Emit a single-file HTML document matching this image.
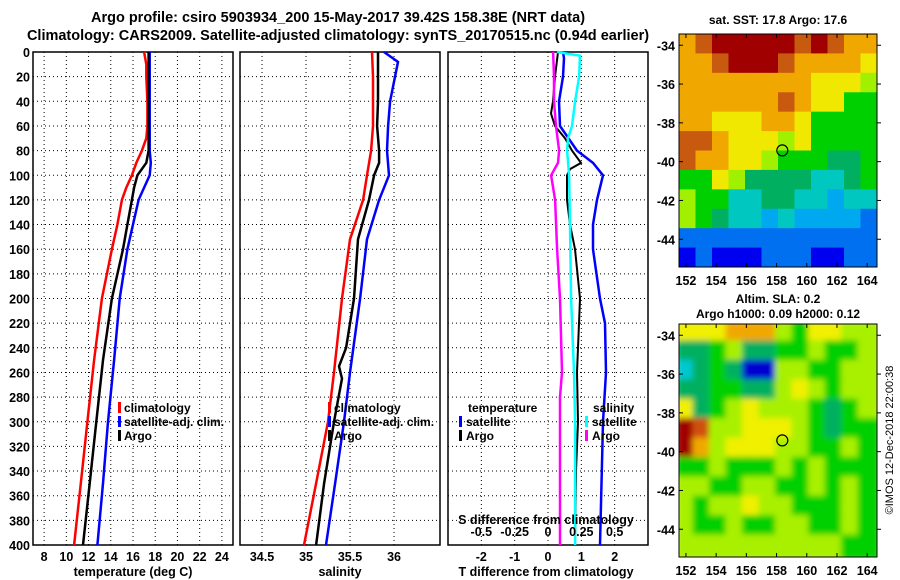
<!DOCTYPE html>
<html><head><meta charset="utf-8"><style>
body{margin:0;background:#fff;}
svg{display:block;font-family:"Liberation Sans",sans-serif;font-weight:bold;}
</style></head><body>
<svg id="fig" width="900" height="580" viewBox="0 0 900 580">
<text x="338" y="22" font-size="14.5" text-anchor="middle">Argo profile: csiro 5903934_200 15-May-2017 39.42S 158.38E (NRT data)</text>
<text x="338" y="40" font-size="14.5" text-anchor="middle">Climatology: CARS2009. Satellite-adjusted climatology: synTS_20170515.nc (0.94d earlier)</text>
<text x="778" y="24" font-size="12" text-anchor="middle">sat. SST: 17.8 Argo: 17.6</text>
<text x="778" y="303" font-size="12" text-anchor="middle">Altim. SLA: 0.2</text>
<text x="778" y="318" font-size="12" text-anchor="middle">Argo h1000: 0.09 h2000: 0.12</text>
<text transform="translate(893,440) rotate(-90)" font-size="11" font-weight="normal" text-anchor="middle">©IMOS 12-Dec-2018 22:00:38</text>
</svg>
<script>
// ---- data ----
const depthTicks=[0,20,40,60,80,100,120,140,160,180,200,220,240,260,280,300,320,340,360,380,400];
const tempTicks=[8,10,12,14,16,18,20,22,24];
const salTicks=[34.5,35,35.5,36];
const tdiffTicks=[-2,-1,0,1,2];
const sdiffTicks=[-0.5,-0.25,0,0.25,0.5];
const sdiffLabels=["-0.5","-0.25","0","0.25","0.5"];

const tClimDepth=[0,10,20,40,60,70,80,90,100,110,120,140,160,200,250,300,350,400];
const tClim=[17.0,17.2,17.2,17.3,17.3,17.2,16.8,16.3,15.9,15.4,15.0,14.6,14.1,13.2,12.5,11.9,11.3,10.7];
const tArgo=[17.4,17.4,17.4,17.4,17.4,17.4,17.4,17.2,16.4,16.1,15.9,15.5,15.1,14.1,13.3,12.7,12.1,11.5];
const tSat=[17.5,17.5,17.5,17.5,17.5,17.5,17.5,17.6,17.5,17.0,16.5,16.0,15.5,14.8,14.3,13.75,13.3,12.8];

const sClimDepth=[0,20,40,60,80,100,120,152,200,260,300,350,400];
const sClim=[35.75,35.761,35.761,35.761,35.739,35.693,35.648,35.5,35.409,35.318,35.25,35.114,34.977];
const sArgoDepth=[0,40,60,80,90,100,120,152,200,240,255,265,300,350,400];
const sArgo=[35.818,35.818,35.807,35.83,35.83,35.773,35.716,35.591,35.545,35.455,35.375,35.409,35.318,35.205,35.114];
const sSatDepth=[0,8,20,40,60,80,100,120,152,200,260,300,350,400];
const sSat=[35.886,36.045,36.011,35.955,35.932,35.92,35.943,35.83,35.693,35.614,35.5,35.432,35.33,35.227];

const dTSatDepth=[0,5,20,40,60,80,90,100,120,140,160,200,220,260,300,400];
const dTSat=[0.45,0.48,0.45,0.33,0.36,0.87,1.35,1.65,1.47,1.35,1.35,1.56,1.71,1.74,1.65,1.56];
const dTArgoDepth=[0,20,40,50,60,70,80,90,95,100,120,140,160,200,240,260,300,340,400];
const dTArgo=[0.3,0.21,0.15,0.09,0.21,0.51,0.72,0.99,0.66,0.57,0.57,0.66,0.81,0.96,0.9,0.87,0.9,0.84,0.81];
const dSSatDepth=[0,3,20,40,60,70,80,100,140,200,260,300,400];
const dSSat=[0.068,0.24,0.233,0.203,0.18,0.15,0.143,0.158,0.165,0.173,0.195,0.203,0.203];
const dSArgoDepth=[0,20,40,60,80,90,100,120,160,200,260,280,300,400];
const dSArgo=[0.038,0.045,0.045,0.06,0.083,0.075,0.023,0.053,0.068,0.09,0.105,0.09,0.09,0.09];

const lonTicks=[152,154,156,158,160,162,164];
const latTicks=[-34,-36,-38,-40,-42,-44];
const argoLon=158.38, argoLat=-39.42;
const sstGrid=[
[19,20,21,21,21,21,21,20,21,20,19,19],
[19,19,20,21,21,21,20,19,19,19,19,18.5],
[19,19,19,19.5,19,19,19.5,19,18,18,18,17.5],
[19,19,19,19,19,19,20,19,18,18,17,17],
[19,19,18,18,18.5,19,19,18.5,17,17,17,17],
[20,20,19,18,18,18,17.5,18,17,17,17,17],
[20,19,19,18.5,18,17.5,17,17,17,16.5,16.5,17],
[17,17,18,17.5,16.5,16.5,16.5,16.5,16,16,16.5,17],
[17.5,17,17,16,16,16.5,16.5,16,16,15.5,16,16],
[17.5,17,16.5,16,16,15.5,16,15.5,15.5,15.5,15.5,15],
[15,15,15,15,15,15,15,15,15,15,15,15],
[14.5,15,14.5,14.5,14.5,15,15,15,14.5,14.5,15,15]];
const slaGrid=[
[0.2,0.2,0.2,0.3,0.35,0.3,0.1,0,0.2,0.2,0.1,0.1],
[-0.1,-0.15,0,0.15,-0.1,-0.1,0,0,0.1,0.05,0,0.1],
[-0.2,-0.15,0,-0.1,-0.5,-0.5,0.1,0.1,0,0.05,0.1,0.1],
[-0.1,-0.1,0,0.05,-0.1,-0.1,0.1,0.25,0.1,0,0.1,0.1],
[0.2,-0.05,0,0.1,0.25,0.1,0.15,0.1,0,-0.1,0,0.1],
[0.5,0.4,0.1,0.1,0.2,0.2,0.2,0.1,0.05,-0.1,0.05,0],
[0.5,0.3,0.15,0.2,0.2,0.2,0.1,0.1,0,0.05,0.1,0],
[0,0,0.1,0,0,0,0.1,0,0.1,0,0.05,0],
[0.1,0.1,0.05,0,0.1,0.1,0,0,0.1,0,0.1,0],
[0.15,0,0.1,0.15,0.2,0.1,0.1,0.05,0,0.05,0.1,0],
[0.1,0,0,0.1,0,0,0.1,0.1,0.05,0,0.1,0.05],
[0.1,0.1,0.15,0.1,0.1,0.1,0.15,0.1,0.15,0.1,0.05,0]];

// ---- drawing ----
const NS="http://www.w3.org/2000/svg";
const svg=document.getElementById('fig');
function mk(tag,attrs,parent){const e=document.createElementNS(NS,tag);for(const k in attrs)e.setAttribute(k,attrs[k]);(parent||svg).appendChild(e);return e;}
const Y0=52,Y1=545;
const yD=d=>Y0+(d/400)*(Y1-Y0);
function panel(x0,x1,xmin,xmax,name){
  const sx=v=>x0+(v-xmin)/(xmax-xmin)*(x1-x0);
  const g=mk('g',{});
  
  
  return {sx,g,x0,x1};
}
function frame(p,xt,labels,showY){
  xt.forEach((v,i)=>{const x=p.sx(v);
    const l=mk('line',{x1:x,x2:x,y1:Y0,y2:Y1,stroke:'#000','stroke-width':1,'stroke-dasharray':'1 3'},p.g);
    
    const t=mk('text',{x:x,y:561,'font-size':12.5,'text-anchor':'middle'},p.g);t.textContent=labels?labels[i]:String(v);
    });
  depthTicks.forEach(d=>{const y=yD(d);
    if(d>0&&d<400){const l=mk('line',{x1:p.x0,x2:p.x1,y1:y,y2:y,stroke:'#000','stroke-width':1,'stroke-dasharray':'1 3'},p.g);
    }
    if(showY){const t=mk('text',{x:p.x0-3,y:y+5,'font-size':12.5,'text-anchor':'end'},p.g);t.textContent=d;
    }});
  const r=mk('rect',{x:p.x0,y:Y0,width:p.x1-p.x0,height:Y1-Y0,fill:'none',stroke:'#000','stroke-width':1.5},p.g);
  
}
function series(p,sx,depths,vals,color,name,w){
  const pts=vals.map((v,i)=>sx(v).toFixed(1)+','+yD(depths[i]).toFixed(1)).join(' ');
  const l=mk('polyline',{points:pts,fill:'none',stroke:color,'stroke-width':w||2.5},p.g);
  
}
function text(g,x,y,s,name,size,anchor){const t=mk('text',{x:x,y:y,'font-size':size||12,'text-anchor':anchor||'start'},g);t.textContent=s;
  return t;}
function legendMark(g,x,y,color){const r=mk('rect',{x:x,y:y-10,width:3,height:11,fill:color},g);
  }

// panel 1 temperature
const p1=panel(33,233,7,25,'temperature-panel');
frame(p1,tempTicks,null,true);
series(p1,p1.sx,tClimDepth,tClim,'#f00','climatology-temperature-line');
series(p1,p1.sx,tClimDepth,tSat,'#00f','satellite-adj-temperature-line');
series(p1,p1.sx,tClimDepth,tArgo,'#000','argo-temperature-line');
text(p1.g,133,576,'temperature (deg C)','x-axis-title-temperature',12.5,'middle');
[['climatology','#f00'],['satellite-adj. clim.','#00f'],['Argo','#000']].forEach((e,i)=>{
  legendMark(p1.g,118,412+i*14,e[1]);text(p1.g,124,412+i*14,e[0],'legend-entry');});

// panel 2 salinity
const p2=panel(240,440,34.25,36.522,'salinity-panel');
frame(p2,salTicks,null,false);
series(p2,p2.sx,sClimDepth,sClim,'#f00','climatology-salinity-line');
series(p2,p2.sx,sSatDepth,sSat,'#00f','satellite-adj-salinity-line');
series(p2,p2.sx,sArgoDepth,sArgo,'#000','argo-salinity-line');
text(p2.g,340,576,'salinity','x-axis-title-salinity',12.5,'middle');
[['climatology','#f00'],['satellite-adj. clim.','#00f'],['Argo','#000']].forEach((e,i)=>{
  legendMark(p2.g,328,412+i*14,e[1]);text(p2.g,334,412+i*14,e[0],'legend-entry');});

// panel 3 differences
const p3=panel(448,648,-3,3,'difference-panel');
frame(p3,tdiffTicks,null,false);
const sxS=v=>p3.sx(v*4);
series(p3,p3.sx,dTSatDepth,dTSat,'#00f','satellite-temperature-diff-line');
series(p3,p3.sx,dTArgoDepth,dTArgo,'#000','argo-temperature-diff-line',2);
series(p3,sxS,dSSatDepth,dSSat,'#0ff','satellite-salinity-diff-line');
series(p3,sxS,dSArgoDepth,dSArgo,'#f0f','argo-salinity-diff-line');
sdiffTicks.forEach((v,i)=>{const t=text(p3.g,sxS(v),536,sdiffLabels[i],'s-diff-tick-label',12.5,'middle');});
text(p3.g,546,524,'S difference from climatology','s-diff-axis-title',12.5,'middle');
text(p3.g,546,576,'T difference from climatology','x-axis-title-tdiff',12.5,'middle');
text(p3.g,468,412,'temperature','legend-title-temperature');
text(p3.g,593,412,'salinity','legend-title-salinity');
[['satellite','#00f'],['Argo','#000']].forEach((e,i)=>{legendMark(p3.g,459,426+i*14,e[1]);text(p3.g,466,426+i*14,e[0],'legend-entry');});
[['satellite','#0ff'],['Argo','#f0f']].forEach((e,i)=>{legendMark(p3.g,585,426+i*14,e[1]);text(p3.g,592,426+i*14,e[0],'legend-entry');});

// maps
function sstColor(v){const stops=[[14.5,'#0000f0'],[15,'#0070f0'],[15.5,'#00a8f0'],[16,'#00c8c0'],[16.5,'#00b060'],[17,'#00d000'],[17.5,'#a0f000'],[18,'#f0e800'],[19,'#f0a800'],[20,'#c85a10'],[21,'#a00000']];
  let best=stops[0];for(const s of stops)if(Math.abs(s[0]-v)<Math.abs(best[0]-v))best=s;return best[1];}
function slaColor(v){const stops=[[-0.5,'#0000d0'],[-0.4,'#0060f0'],[-0.2,'#00c8d0'],[-0.1,'#00b060'],[0,'#00d000'],[0.1,'#a8f000'],[0.2,'#f0f000'],[0.3,'#f0a800'],[0.4,'#d05010'],[0.5,'#a00000']];
  let best=stops[0];for(const s of stops)if(Math.abs(s[0]-v)<Math.abs(best[0]-v))best=s;return best[1];}
function map(top,bottom,grid,colorFn,name,blur){
  const L=679,R=877,lonMin=151.54,lonMax=164.65,latTop=-33.42,latBot=-45.43;
  const sx=lon=>L+(lon-lonMin)/(lonMax-lonMin)*(R-L);
  const sy=lat=>top+(latTop-lat)/(latTop-latBot)*(bottom-top);
  const g=mk('g',{});
  const cg=mk('g',blur?{filter:'url(#blur)'}:{},mk('g',{'clip-path':'url(#clip-'+name+')'},g));
  const cp=mk('clipPath',{id:'clip-'+name},g);mk('rect',{x:L,y:top,width:R-L,height:bottom-top},cp);
  const rows=grid.length,cols=grid[0].length,cw=(R-L)/cols,ch=(bottom-top)/rows;
  grid.forEach((row,r)=>row.forEach((v,c)=>{const e=mk('rect',{x:L+c*cw-(blur?3:0),y:top+r*ch-(blur?3:0),width:cw+(blur?6:0.6),height:ch+(blur?6:0.6),fill:colorFn(v)},cg);
    }));
  const f=mk('rect',{x:L,y:top,width:R-L,height:bottom-top,fill:'none',stroke:'#000','stroke-width':1},g);
  
  lonTicks.forEach(v=>{const x=sx(v);mk('line',{x1:x,x2:x,y1:bottom,y2:bottom-4,stroke:'#000'},g);mk('line',{x1:x,x2:x,y1:top,y2:top+4,stroke:'#000'},g);
    text(g,x,bottom+18,String(v),'lon-tick-label',12.5,'middle');});
  latTicks.forEach(v=>{const y=sy(v);mk('line',{x1:L,x2:L+4,y1:y,y2:y,stroke:'#000'},g);mk('line',{x1:R,x2:R+4,y1:y,y2:y,stroke:'#000'},g);
    text(g,L-4,y+5,String(v),'lat-tick-label',12.5,'end');});
  const c=mk('circle',{cx:sx(argoLon),cy:sy(argoLat),r:5.5,fill:'none',stroke:'#000','stroke-width':1.2},g);
  
}
const defs=mk('defs',{});const flt=mk('filter',{id:'blur',x:'-5%',y:'-5%',width:'110%',height:'110%'},defs);mk('feGaussianBlur',{stdDeviation:3},flt);
map(34,267,sstGrid,sstColor,'sst-map',false);
map(324,557,slaGrid,slaColor,'sla-map',true);
</script>
</body></html>
